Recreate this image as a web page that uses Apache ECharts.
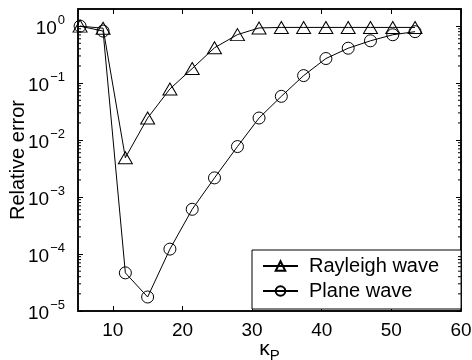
<!DOCTYPE html>
<html>
<head>
<meta charset="utf-8">
<script src="https://cdn.jsdelivr.net/npm/echarts@6/dist/echarts.min.js"></script>
<style>
html,body{margin:0;padding:0;background:#fff;}
#c{width:472px;height:360px;}
</style>
</head>
<body>
<div id="c"></div>
<script>
const kappa = [5.3, 8.6, 11.8, 15.0, 18.2, 21.4, 24.6, 27.9, 31.0, 34.2, 37.4, 40.6, 43.8, 47.0, 50.2, 53.4];
const rayleigh = [1.0, 0.92, 4.9e-3, 0.0244, 0.079, 0.18, 0.417, 0.71, 0.93, 0.95, 0.95, 0.95, 0.95, 0.95, 0.95, 0.95];
const plane = [1.0, 0.82, 4.67e-5, 1.76e-5, 1.22e-4, 6.1e-4, 2.17e-3, 7.7e-3, 0.0244, 0.0586, 0.1355, 0.27, 0.41, 0.553, 0.706, 0.8];
const xMin = 5, xMax = 60;
const yMin = 1e-5, yMax = 2;
const decades = [1e-5, 1e-4, 1e-3, 1e-2, 1e-1, 1];
const minorTicks = [];
decades.forEach(d => { for (let m = 2; m <= 9; m++) { const v = d * m; if (v < yMax) minorTicks.push(v); } });

const FONT = 'Liberation Sans, Arial, Helvetica, sans-serif';
const toPairs = ys => kappa.map((x, i) => [x, ys[i]]);

function powLabel(v) {
  const l = Math.log10(v);
  const e = Math.round(l);
  if (Math.abs(l - e) > 1e-6) return '';
  const es = e < 0 ? '\u2212' + (-e) : String(e);
  return '{b|10}{e|' + es + '}';
}

const chart = echarts.init(document.getElementById('c'), null, {renderer: 'canvas'});
const lineStyle = {color: '#000', width: 1};
const itemStyle = {color: 'rgba(0,0,0,0)', borderColor: '#000', borderWidth: 1};

chart.setOption({
  animation: false,
  backgroundColor: '#fff',
  textStyle: {fontFamily: FONT, color: '#000'},
  grid: {left: 78, right: 11, top: 9, bottom: 49, outerBoundsMode: 'none', containLabel: false,
    show: true, borderColor: '#000', borderWidth: 1.5, backgroundColor: '#fff'},
  legend: {
    data: ['Rayleigh wave', 'Plane wave'],
    orient: 'vertical',
    left: 252, top: 250,
    padding: [6, 22, 8, 10],
    itemGap: 5,
    itemWidth: 35, itemHeight: 12,
    backgroundColor: '#fff',
    borderColor: '#000', borderWidth: 1,
    textStyle: {fontFamily: FONT, fontSize: 20, color: '#000', padding: [0, 0, 0, 6]},
    selectedMode: false
  },
  xAxis: [{
    type: 'value', min: xMin, max: xMax,
    name: '{k|\u03ba}{s|P}', nameLocation: 'middle', nameGap: 24, nameMoveOverlap: false,
    nameTextStyle: {rich: {k: {fontSize: 21, fontFamily: FONT, color: '#000'}, s: {fontSize: 15, fontFamily: FONT, color: '#000', padding: [13, 0, 0, 0]}}},
    axisLine: {show: true, lineStyle: {color: '#000', width: 1.5}},
    axisTick: {inside: true, length: 5, lineStyle: {color: '#000'}},
    axisLabel: {fontSize: 19, color: '#000', fontFamily: FONT, margin: 10, showMinLabel: false,
      formatter: v => (Math.abs(v % 10) < 1e-9 ? String(v) : '')},
    splitLine: {show: false}
  }, {
    type: 'value', min: xMin, max: xMax, position: 'top',
    axisLine: {show: true, lineStyle: {color: '#000', width: 1.5}},
    axisTick: {inside: true, length: 5, lineStyle: {color: '#000'}},
    axisLabel: {show: false}, splitLine: {show: false}
  }],
  yAxis: [{
    type: 'log', logBase: 10, min: yMin, max: yMax,
    name: 'Relative error', nameLocation: 'middle', nameGap: 50, nameMoveOverlap: false,
    nameTextStyle: {fontSize: 20, fontFamily: FONT, color: '#000'},
    axisLine: {show: true, lineStyle: {color: '#000', width: 1.5}},
    axisTick: {inside: true, length: 5, lineStyle: {color: '#000'}},
    axisLabel: {color: '#000', margin: 13, showMaxLabel: false, formatter: powLabel,
      rich: {b: {fontSize: 19, fontFamily: FONT, color: '#000', verticalAlign: 'bottom'},
             e: {fontSize: 13, fontFamily: FONT, color: '#000', verticalAlign: 'bottom', padding: [0, 0, 12, 1]}}},
    splitLine: {show: false}
  }, {
    type: 'log', logBase: 10, min: yMin, max: yMax, position: 'right',
    axisLine: {show: true, lineStyle: {color: '#000', width: 1.5}},
    axisTick: {inside: true, length: 5, lineStyle: {color: '#000'}},
    axisLabel: {show: false}, splitLine: {show: false}
  }],
  series: [{
    name: 'Rayleigh wave', type: 'line', data: toPairs(rayleigh),
    symbol: 'triangle', symbolSize: [14, 12], showAllSymbol: true,
    lineStyle, itemStyle, z: 3
  }, {
    name: 'Plane wave', type: 'line', data: toPairs(plane),
    symbol: 'circle', symbolSize: 12, showAllSymbol: true,
    lineStyle, itemStyle, z: 3
  }, {
    name: 'minor', type: 'custom', silent: true, z: 4,
    data: minorTicks.map(v => [xMin, v]),
    encode: {x: 0, y: 1},
    renderItem: (params, api) => {
      const v = api.value(1);
      const a = api.coord([xMin, v]);
      const b = api.coord([xMax, v]);
      return {type: 'group', children: [
        {type: 'line', shape: {x1: a[0], y1: a[1], x2: a[0] + 3, y2: a[1]}, style: {stroke: '#000', lineWidth: 1}},
        {type: 'line', shape: {x1: b[0] - 3, y1: b[1], x2: b[0], y2: b[1]}, style: {stroke: '#000', lineWidth: 1}}
      ]};
    }
  }]
});
</script>
</body>
</html>
